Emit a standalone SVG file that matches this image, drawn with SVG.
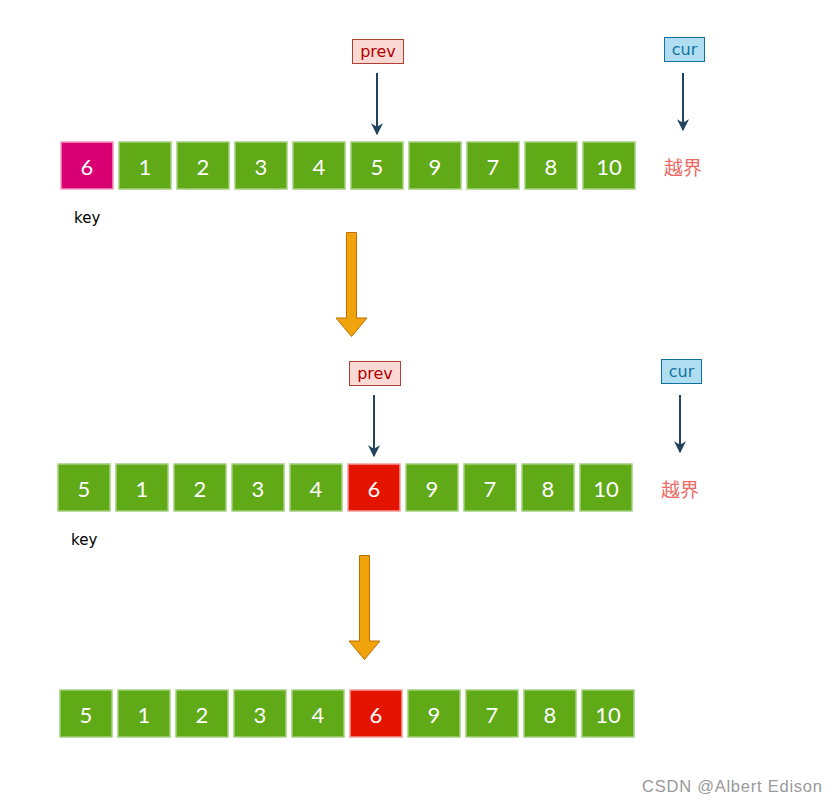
<svg xmlns="http://www.w3.org/2000/svg" width="836" height="803" viewBox="0 0 836 803">
<style>
.g{fill:#60A917;stroke:#A3D07E;stroke-width:1.5}
.k{fill:#D80073;stroke:#F29AC0;stroke-width:1.5}
.r{fill:#E51400;stroke:#F19C99;stroke-width:1.5}
.n{font-family:Lato,"DejaVu Sans",sans-serif;font-size:22px;fill:#fff;text-anchor:middle;dominant-baseline:central}
.pv{fill:#FAD9D5;stroke:#AE4132;stroke-width:1}
.cu{fill:#B1DDF0;stroke:#10739E;stroke-width:1}
.pt{font-family:"DejaVu Sans",sans-serif;font-size:16px;fill:#B20000;text-anchor:middle}
.ct{font-family:"DejaVu Sans",sans-serif;font-size:16px;fill:#10739E;text-anchor:middle}
.key{font-family:"DejaVu Sans",sans-serif;font-size:15px;fill:#000}
.oob{font-family:"Noto Sans CJK SC",sans-serif;font-size:19px;fill:#EA6B66;text-anchor:middle}
.ptr{stroke:#23445D;stroke-width:2;fill:none;marker-end:url(#ah)}
.big{fill:#F0A30A;stroke:#BD7000;stroke-width:1}
</style>
<defs>
<marker id="ah" viewBox="0 0 10 10" refX="9" refY="5" markerWidth="6" markerHeight="6" orient="auto" markerUnits="strokeWidth">
<path d="M0,0 L10,5 L0,10 L3,5 Z" fill="#23445D"/>
</marker>
</defs>

<g id="row1">
<g id="r1c0"><rect class="k" x="61" y="142" width="52" height="47"/><text class="n" x="87" y="166">6</text></g>
<g id="r1c1"><rect class="g" x="119" y="142" width="52" height="47"/><text class="n" x="145" y="166">1</text></g>
<g id="r1c2"><rect class="g" x="177" y="142" width="52" height="47"/><text class="n" x="203" y="166">2</text></g>
<g id="r1c3"><rect class="g" x="235" y="142" width="52" height="47"/><text class="n" x="261" y="166">3</text></g>
<g id="r1c4"><rect class="g" x="293" y="142" width="52" height="47"/><text class="n" x="319" y="166">4</text></g>
<g id="r1c5"><rect class="g" x="351" y="142" width="52" height="47"/><text class="n" x="377" y="166">5</text></g>
<g id="r1c6"><rect class="g" x="409" y="142" width="52" height="47"/><text class="n" x="435" y="166">9</text></g>
<g id="r1c7"><rect class="g" x="467" y="142" width="52" height="47"/><text class="n" x="493" y="166">7</text></g>
<g id="r1c8"><rect class="g" x="525" y="142" width="52" height="47"/><text class="n" x="551" y="166">8</text></g>
<g id="r1c9"><rect class="g" x="583" y="142" width="52" height="47"/><text class="n" x="609" y="166">10</text></g>
</g>
<g id="prev1"><rect class="pv" x="352.5" y="39.5" width="51" height="24"/><text class="pt" x="378" y="57">prev</text></g>
<g id="cur1"><rect class="cu" x="664.5" y="37.5" width="40" height="24"/><text class="ct" x="684.5" y="55">cur</text></g>
<g id="key1"><text class="key" x="74" y="223">key</text></g>
<g id="oob1"><text class="oob" x="683" y="175">越界</text></g>

<g id="row2">
<g id="r2c0"><rect class="g" x="58" y="464" width="52" height="47"/><text class="n" x="84" y="488">5</text></g>
<g id="r2c1"><rect class="g" x="116" y="464" width="52" height="47"/><text class="n" x="142" y="488">1</text></g>
<g id="r2c2"><rect class="g" x="174" y="464" width="52" height="47"/><text class="n" x="200" y="488">2</text></g>
<g id="r2c3"><rect class="g" x="232" y="464" width="52" height="47"/><text class="n" x="258" y="488">3</text></g>
<g id="r2c4"><rect class="g" x="290" y="464" width="52" height="47"/><text class="n" x="316" y="488">4</text></g>
<g id="r2c5"><rect class="r" x="348" y="464" width="52" height="47"/><text class="n" x="374" y="488">6</text></g>
<g id="r2c6"><rect class="g" x="406" y="464" width="52" height="47"/><text class="n" x="432" y="488">9</text></g>
<g id="r2c7"><rect class="g" x="464" y="464" width="52" height="47"/><text class="n" x="490" y="488">7</text></g>
<g id="r2c8"><rect class="g" x="522" y="464" width="52" height="47"/><text class="n" x="548" y="488">8</text></g>
<g id="r2c9"><rect class="g" x="580" y="464" width="52" height="47"/><text class="n" x="606" y="488">10</text></g>
</g>
<g id="prev2"><rect class="pv" x="349.5" y="361.5" width="51" height="24"/><text class="pt" x="375" y="379">prev</text></g>
<g id="cur2"><rect class="cu" x="661.5" y="359.5" width="40" height="24"/><text class="ct" x="681.5" y="377">cur</text></g>
<g id="key2"><text class="key" x="71" y="545">key</text></g>
<g id="oob2"><text class="oob" x="680" y="497">越界</text></g>

<g id="row3">
<g id="r3c0"><rect class="g" x="60" y="690" width="52" height="47"/><text class="n" x="86" y="714">5</text></g>
<g id="r3c1"><rect class="g" x="118" y="690" width="52" height="47"/><text class="n" x="144" y="714">1</text></g>
<g id="r3c2"><rect class="g" x="176" y="690" width="52" height="47"/><text class="n" x="202" y="714">2</text></g>
<g id="r3c3"><rect class="g" x="234" y="690" width="52" height="47"/><text class="n" x="260" y="714">3</text></g>
<g id="r3c4"><rect class="g" x="292" y="690" width="52" height="47"/><text class="n" x="318" y="714">4</text></g>
<g id="r3c5"><rect class="r" x="350" y="690" width="52" height="47"/><text class="n" x="376" y="714">6</text></g>
<g id="r3c6"><rect class="g" x="408" y="690" width="52" height="47"/><text class="n" x="434" y="714">9</text></g>
<g id="r3c7"><rect class="g" x="466" y="690" width="52" height="47"/><text class="n" x="492" y="714">7</text></g>
<g id="r3c8"><rect class="g" x="524" y="690" width="52" height="47"/><text class="n" x="550" y="714">8</text></g>
<g id="r3c9"><rect class="g" x="582" y="690" width="52" height="47"/><text class="n" x="608" y="714">10</text></g>
</g>

<g id="connectors">
<line class="ptr" x1="377" y1="73" x2="377" y2="134"/>
<line class="ptr" x1="683" y1="73" x2="683" y2="130"/>
<line class="ptr" x1="374" y1="395" x2="374" y2="456"/>
<line class="ptr" x1="680" y1="395" x2="680" y2="452"/>
<path class="big" d="M346.5,232.5 H356.5 V318 H367 L351.5,336.5 L336,318 H346.5 Z"/>
<path class="big" d="M359.5,555.5 H369.5 V641 H380 L364.5,659.5 L349,641 H359.5 Z"/>
</g>

<text x="642" y="792" font-family="Liberation Sans,Arial,sans-serif" font-size="16.5" fill="#999" textLength="180">CSDN @Albert Edison</text>
</svg>
